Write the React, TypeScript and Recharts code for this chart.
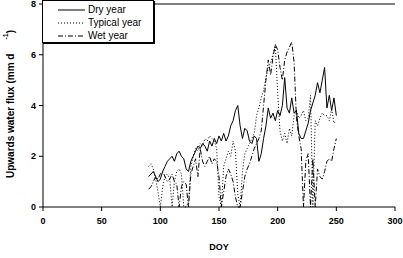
import {
  LineChart,
  Line,
  XAxis,
  YAxis,
  Legend,
  ReferenceLine,
  Label,
} from 'recharts';

// day of year for each sample
const doy = [
  90, 92, 94, 96, 98, 100, 102, 104, 106, 108,
  110, 112, 114, 116, 118, 120, 122, 124, 126, 128,
  130, 132, 134, 136, 138, 140, 142, 144, 146, 148,
  150, 152, 154, 156, 158, 160, 162, 164, 166, 168,
  170, 172, 174, 176, 178, 180, 182, 184, 186, 188,
  190, 192, 194, 196, 198, 200, 202, 204, 206, 208,
  210, 212, 214, 216, 218, 220, 222, 224, 226, 228,
  230, 232, 234, 236, 238, 240, 242, 244, 246, 248,
  250,
];

// upward water flux, mm/day
const dryYear = [
  1.2, 1.3, 1.4, 1.2, 1.0, 1.1, 1.4, 1.6, 1.8, 1.9,
  2.0, 1.8, 2.1, 2.2, 2.0, 1.9, 1.5, 1.4, 1.8, 2.0,
  2.2, 2.4, 2.3, 2.5, 2.4, 2.2, 2.6, 2.4, 2.7, 2.5,
  2.8, 2.6, 2.9, 2.6, 2.8, 3.2, 3.4, 3.8, 4.0, 3.2,
  2.7, 3.1, 3.0, 2.6, 2.5, 2.8, 2.7, 1.8, 2.1, 2.7,
  3.2, 3.9, 3.5, 3.7, 3.4, 3.8, 3.6, 4.0, 5.1, 3.9,
  3.7, 4.3, 3.7, 3.8, 2.9, 2.7, 2.7, 3.0, 3.3, 3.8,
  4.1, 4.4, 4.9, 4.5, 5.0, 5.5, 3.9, 4.4, 3.8, 4.3,
  3.6,
];

const typicalYear = [
  1.6, 1.7, 1.5, 1.1, 0.6, 0, 0.8, 1.2, 1.3, 1.1,
  0, 1.0, 1.4, 1.5, 1.3, 0, 0, 0.2, 1.6, 2.0,
  2.3, 2.2, 2.5, 2.4, 2.7, 2.6, 2.8, 2.7, 2.6, 2.3,
  0.4, 0, 1.6, 1.9, 2.2, 2.0, 2.6, 2.2, 0.5, 0,
  1.4, 2.1, 2.3, 2.5, 2.7, 2.9, 3.6, 3.9, 4.3, 4.6,
  5.1, 5.5, 5.7, 6.0, 6.4, 4.5, 3.0, 2.6, 2.9, 2.5,
  3.1, 2.8, 3.6, 3.8, 3.5, 3.6, 3.8, 3.4, 3.5, 4.4,
  0, 3.4, 3.2, 3.5, 3.7, 3.6, 3.6, 3.4, 3.85, 3.3,
  3.4,
];

const wetYear = [
  0.7, 0.8, 1.0, 1.2, 1.1, 1.3, 1.4, 1.2, 1.0, 1.1,
  1.3, 1.0, 0.9, 0, 0.8, 1.0, 0.9, 0, 1.3, 1.6,
  1.9, 1.2, 2.3, 1.8, 1.6, 1.8, 2.0, 1.7, 1.9, 1.8,
  1.2, 0, 0.6, 1.2, 1.5, 1.3, 1.0, 0.4, 0, 0,
  0.6, 1.2, 1.5, 1.7, 2.0, 2.3, 2.5, 2.7, 3.0, 4.0,
  5.0, 5.8, 5.2, 5.9, 6.4, 6.2, 5.5, 5.0, 5.8, 6.1,
  6.3, 6.5, 5.7, 3.5, 2.8, 2.3, 0, 1.8, 2.1, 0,
  1.9, 0, 1.5, 1.2, 1.1, 1.4, 1.8, 1.9, 1.8, 2.3,
  2.7,
];

const xTicks = [0, 50, 100, 150, 200, 250, 300];
const yTicks = [0, 2, 4, 6, 8];

const data = doy.map((d, i) => ({
  doy: d,
  dry: dryYear[i],
  typical: typicalYear[i],
  wet: wetYear[i],
}));

const font = '"Liberation Sans", Arial, sans-serif';

const series = [
  { key: 'dry', name: 'Dry year', dash: undefined },
  { key: 'typical', name: 'Typical year', dash: '1 2' },
  { key: 'wet', name: 'Wet year', dash: '5 2 1 2' },
];

function LegendBox() {
  return (
    <div
      style={{
        width: 110,
        height: 41,
        border: '1px solid #000',
        boxShadow: '1px 1px 0 #000',
        background: '#fff',
        fontFamily: font,
        fontSize: 10,
        position: 'relative',
      }}
    >
      {series.map((s, i) => (
        <div
          key={s.key}
          style={{
            position: 'absolute',
            left: 15,
            top: 2 + i * 13,
            height: 13,
            display: 'flex',
            alignItems: 'center',
            whiteSpace: 'nowrap',
          }}
        >
          <svg width={28} height={4} style={{ display: 'block' }}>
            <line
              x1={0}
              y1={2}
              x2={27}
              y2={2}
              stroke="#000"
              strokeWidth={1}
              strokeDasharray={s.dash}
            />
          </svg>
          <span style={{ marginLeft: 2, color: '#000' }}>{s.name}</span>
        </div>
      ))}
    </div>
  );
}

function FluxLabel() {
  const cx = 10;
  const cy = 104;
  return (
    <text
      x={cx}
      y={cy}
      transform={`rotate(-90 ${cx} ${cy})`}
      textAnchor="middle"
      dominantBaseline="central"
      fontFamily={font}
      fontSize={10}
      fontWeight="bold"
      fill="#000"
    >
      Upwards water flux (mm d
      <tspan dx={14} dy={-5} fontSize={7}>
        -1
      </tspan>
      <tspan dy={5}>)</tspan>
    </text>
  );
}

export default function App() {
  const tickStyle = { fill: '#000', fontSize: 9, fontWeight: 'bold', fontFamily: font };
  return (
    <div style={{ position: 'absolute', left: 0, top: 0, width: 403, height: 258, background: '#fff' }}>
      <LineChart
        width={403}
        height={258}
        data={data}
        margin={{ top: 4, right: 8, left: 0, bottom: 22 }}
      >
        <XAxis
          dataKey="doy"
          type="number"
          domain={[0, 300]}
          ticks={xTicks}
          interval={0}
          height={29}
          stroke="#000"
          tickSize={4}
          tickMargin={7}
          tick={tickStyle}
        >
          <Label
            value="DOY"
            position="bottom"
            offset={8}
            style={{ fill: '#000', fontSize: 9, fontWeight: 'bold', fontFamily: font }}
          />
        </XAxis>
        <YAxis
          type="number"
          domain={[0, 8]}
          ticks={yTicks}
          interval={0}
          width={43}
          stroke="#000"
          tickSize={4}
          tickMargin={3}
          tick={tickStyle}
          label={<FluxLabel />}
        />
        <ReferenceLine y={8} stroke="#000" strokeWidth={1} />
        <Legend
          layout="vertical"
          align="center"
          verticalAlign="middle"
          wrapperStyle={{ position: 'absolute', left: 42, top: 0, width: 'auto' }}
          content={() => <LegendBox />}
        />
        {series.map((s) => (
          <Line
            key={s.key}
            dataKey={s.key}
            name={s.name}
            type="linear"
            stroke="#000"
            strokeWidth={1}
            strokeDasharray={s.dash}
            dot={false}
            activeDot={false}
            isAnimationActive={false}
          />
        ))}
      </LineChart>
    </div>
  );
}
